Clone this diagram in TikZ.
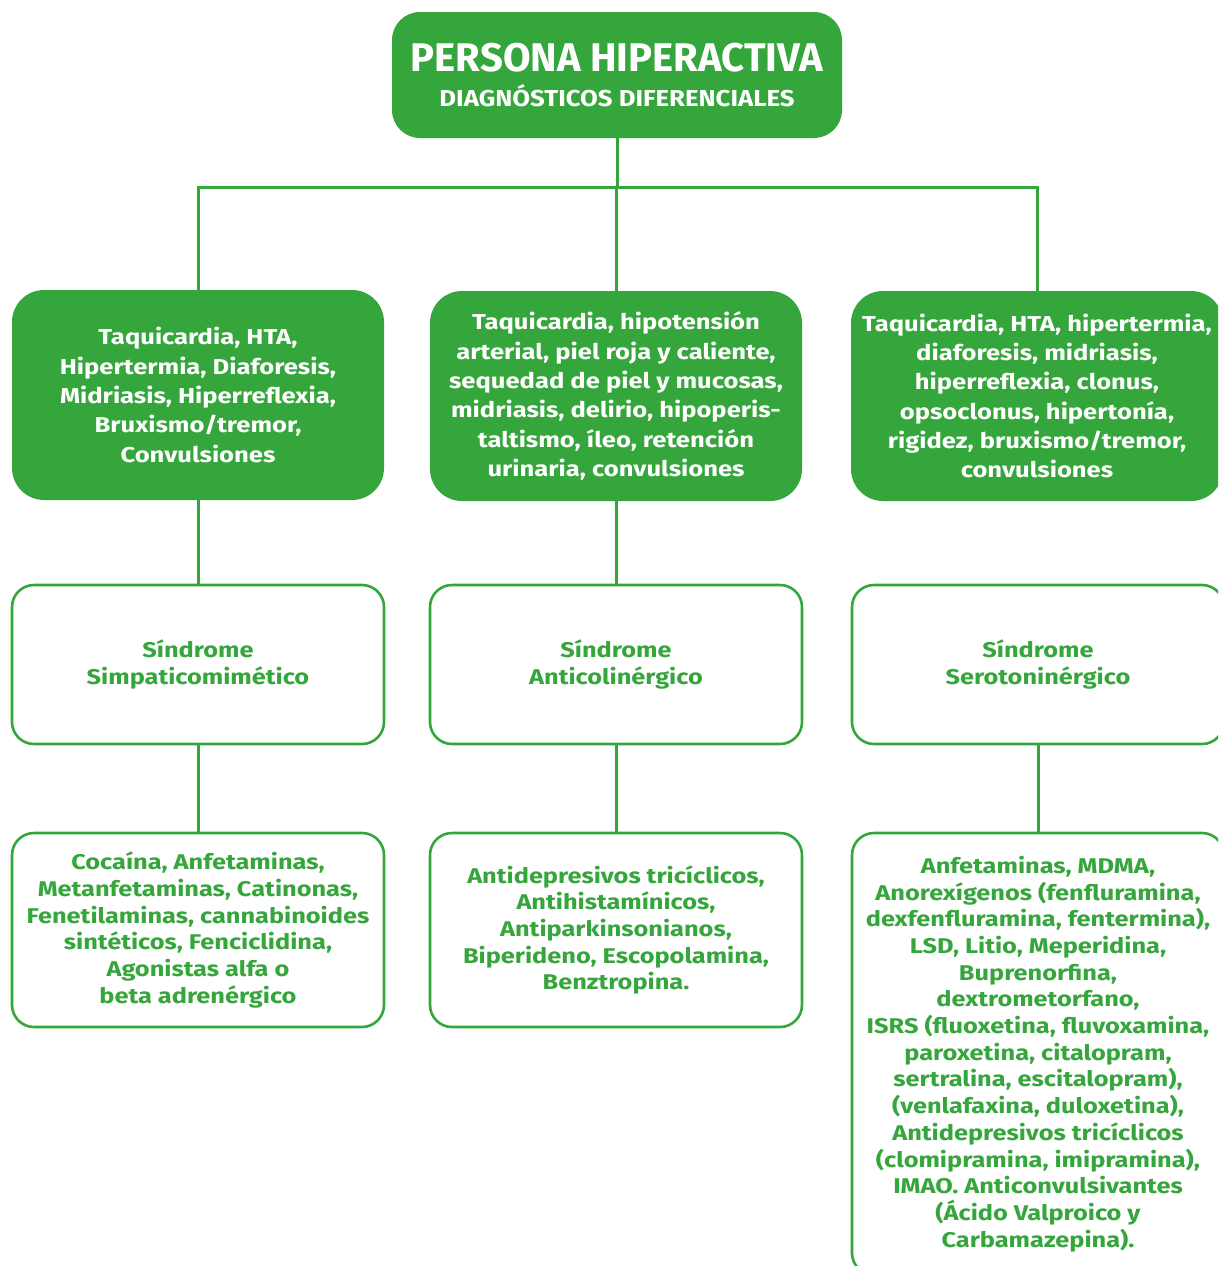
\documentclass[tikz,border=0pt]{standalone}
\usepackage{fontspec}
\setmainfont{Fira Sans}
\newfontfamily\widefont{Fira Sans}[FakeStretch=1.19]
\newfontfamily\midfont{Fira Sans}[FakeStretch=1.12]
\definecolor{gr}{HTML}{35A63B}
\begin{document}
\begin{tikzpicture}[x=1pt,y=-1pt,
  filled/.style={draw=none, fill=gr, rounded corners=32pt, text=white, inner sep=0pt,
    minimum width=372pt, minimum height=210pt, align=center,
    font=\widefont\bfseries\fontsize{21.5}{29.3}\selectfont},
  outl/.style={draw=gr, line width=2.6pt, fill=white, rounded corners=22pt, text=gr, inner sep=0pt,
    minimum width=372pt, align=center, font=\widefont\bfseries\fontsize{21.3}{26.7}\selectfont},
  conn/.style={draw=gr, line width=3pt}]
\useasboundingbox (0,0) rectangle (1218,1266);
\clip (0,0) rectangle (1218,1266);

\node[filled, rounded corners=28pt, minimum width=450pt, minimum height=126pt] (top) at (617,75)
  {\normalfont\bfseries\fontsize{40}{38}\selectfont PERSONA HIPERACTIVA\\[5pt]
   \midfont\bfseries\fontsize{23}{38}\selectfont DIAGNÓSTICOS DIFERENCIALES};

\node[filled] (g1) at (198,395) {Taquicardia, HTA,\\Hipertermia, Diaforesis,\\Midriasis, Hiperreflexia,\\Bruxismo/tremor,\\Convulsiones};
\node[filled] (g2) at (616,396) {Taquicardia, hipotensión\\arterial, piel roja y caliente,\\sequedad de piel y mucosas,\\midriasis, delirio, hipoperis-\\taltismo, íleo, retención\\urinaria, convulsiones};
\node[filled] (g3) at (1037,396) {Taquicardia, HTA, hipertermia,\\diaforesis, midriasis,\\hiperreflexia, clonus,\\opsoclonus, hipertonía,\\rigidez, bruxismo/tremor,\\convulsiones};

\node[outl, minimum height=159pt] (s1) at (198,664.5) {Síndrome\\Simpaticomimético};
\node[outl, minimum height=159pt] (s2) at (616,664.5) {Síndrome\\Anticolinérgico};
\node[outl, minimum height=159pt] (s3) at (1038,664.5) {Síndrome\\Serotoninérgico};

\node[outl, minimum height=194pt] (d1) at (198,930) {Cocaína, Anfetaminas,\\Metanfetaminas, Catinonas,\\Fenetilaminas, cannabinoides\\sintéticos, Fenciclidina,\\Agonistas alfa o\\beta adrenérgico};
\node[outl, minimum height=194pt] (d2) at (616,930) {Antidepresivos tricíclicos,\\Antihistamínicos,\\Antiparkinsonianos,\\Biperideno, Escopolamina,\\Benztropina.};
\node[outl, minimum height=442pt] (d3) at (1038,1054) {Anfetaminas, MDMA,\\Anorexígenos (fenfluramina,\\dexfenfluramina, fentermina),\\LSD, Litio, Meperidina,\\Buprenorfina,\\dextrometorfano,\\ISRS (fluoxetina, fluvoxamina,\\paroxetina, citalopram,\\sertralina, escitalopram),\\(venlafaxina, duloxetina),\\Antidepresivos tricíclicos\\(clomipramina, imipramina),\\IMAO. Anticonvulsivantes\\(Ácido Valproico y\\Carbamazepina).};

\coordinate (busL) at (198,187);
\coordinate (busR) at (1037,187);
\draw[conn] (top.south) -- (top.south |- busL);
\draw[conn] (g1.north) -- (busL) -- (busR) -- (g3.north);
\draw[conn] (g2.north) -- (g2.north |- busL);
\draw[conn] (g1.south) -- (s1.north);
\draw[conn] (g2.south) -- (s2.north);
\draw[conn] (s1.south) -- (d1.north);
\draw[conn] (s2.south) -- (d2.north);
\draw[conn] (s3.south) -- (d3.north);
\end{tikzpicture}
\end{document}
